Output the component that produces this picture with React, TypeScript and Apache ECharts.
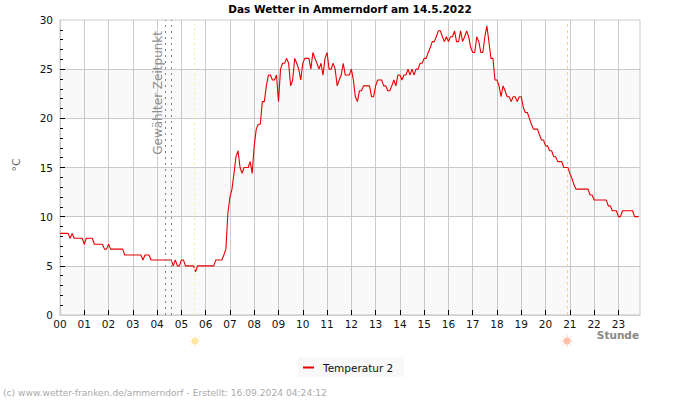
import React, { useEffect, useRef } from "react";
import * as echarts from "echarts";

const FONT = '"DejaVu Sans", sans-serif';

const CHART_TITLE = "Das Wetter in Ammerndorf am 14.5.2022";
const SERIES_NAME = "Temperatur 2";
const FOOTER = "(c) www.wetter-franken.de/ammerndorf - Erstellt: 16.09.2024 04:24:12";
const SELECTED_LABEL = "Gewählter Zeitpunkt";

// One row per hour, one reading every five minutes (°C).
const hour00 = [8.3, 8.3, 8.3, 8.3, 8.3, 7.8, 8.3, 7.8, 7.8, 7.8, 7.8, 7.8];
const hour01 = [7.2, 7.8, 7.8, 7.8, 7.8, 7.2, 7.2, 7.2, 7.2, 7.2, 6.7, 6.7];
const hour02 = [7.2, 6.7, 6.7, 6.7, 6.7, 6.7, 6.7, 6.7, 6.1, 6.1, 6.1, 6.1];
const hour03 = [6.1, 6.1, 6.1, 6.1, 6.1, 5.6, 6.1, 6.1, 6.1, 5.6, 5.6, 5.6];
const hour04 = [5.6, 5.6, 5.6, 5.6, 5.6, 5.6, 5.6, 5.6, 5.0, 5.6, 5.0, 5.0];
const hour05 = [5.6, 5.6, 5.0, 5.0, 5.0, 5.0, 5.0, 4.4, 5.0, 5.0, 5.0, 5.0];
const hour06 = [5.0, 5.0, 5.0, 5.0, 5.0, 5.6, 5.6, 5.6, 5.6, 6.1, 6.7, 10.4];
const hour07 = [12.0, 12.8, 14.4, 16.1, 16.7, 15.0, 14.4, 15.0, 15.0, 15.0, 15.6, 14.4];
const hour08 = [17.2, 18.9, 19.4, 19.4, 21.7, 21.7, 23.3, 24.4, 24.4, 23.9, 23.9, 24.4];
const hour09 = [21.7, 25.0, 25.6, 25.6, 26.1, 25.6, 23.3, 23.9, 26.1, 25.6, 25.0, 23.9];
const hour10 = [25.6, 26.1, 26.1, 26.1, 25.0, 26.7, 26.1, 25.6, 25.0, 25.6, 24.4, 26.1];
const hour11 = [26.7, 25.0, 25.0, 25.6, 25.0, 23.3, 23.9, 24.4, 25.6, 24.4, 24.4, 24.4];
const hour12 = [25.0, 23.9, 22.2, 21.7, 22.8, 22.8, 23.3, 23.3, 23.3, 23.3, 22.2, 22.2];
const hour13 = [23.3, 23.9, 23.9, 23.9, 23.3, 23.3, 22.8, 22.8, 23.3, 23.9, 23.3, 24.4];
const hour14 = [24.4, 23.9, 24.4, 24.4, 25.0, 24.4, 25.0, 24.4, 25.0, 25.0, 25.6, 25.6];
const hour15 = [26.1, 26.1, 26.7, 27.2, 27.8, 27.8, 28.3, 28.9, 28.9, 28.3, 27.8, 28.3];
const hour16 = [27.8, 28.3, 28.3, 28.9, 27.8, 27.8, 28.9, 27.8, 28.3, 28.9, 28.3, 27.2];
const hour17 = [26.7, 26.7, 28.3, 27.8, 26.7, 26.7, 28.3, 29.4, 27.8, 26.1, 26.1, 23.9];
const hour18 = [23.9, 23.3, 22.2, 23.3, 22.8, 22.2, 22.2, 21.7, 22.2, 22.2, 21.7, 22.2];
const hour19 = [22.2, 21.1, 20.6, 20.6, 20.0, 19.4, 18.9, 18.9, 18.9, 18.3, 17.8, 17.8];
const hour20 = [17.2, 17.2, 16.7, 16.7, 16.1, 16.1, 15.6, 15.6, 15.6, 15.0, 15.0, 15.0];
const hour21 = [14.4, 13.9, 13.3, 12.8, 12.8, 12.8, 12.8, 12.8, 12.8, 12.8, 12.2, 12.2];
const hour22 = [11.7, 11.7, 11.7, 11.7, 11.7, 11.7, 11.7, 11.1, 11.1, 10.6, 10.6, 10.6];
const hour23 = [10.0, 10.0, 10.6, 10.6, 10.6, 10.6, 10.6, 10.6, 10.0, 10.0, 10.0];

const temperatures = [
  ...hour00, ...hour01, ...hour02, ...hour03, ...hour04, ...hour05,
  ...hour06, ...hour07, ...hour08, ...hour09, ...hour10, ...hour11,
  ...hour12, ...hour13, ...hour14, ...hour15, ...hour16, ...hour17,
  ...hour18, ...hour19, ...hour20, ...hour21, ...hour22, ...hour23,
];

const hourLabels = [
  0, 1, 2, 3, 4, 5, 6, 7, 8, 9, 10, 11, 12, 13, 14, 15, 16, 17, 18, 19, 20, 21, 22, 23,
];
const hourTicks = hourLabels.slice(1);
const degreeTicks = [5, 10, 15, 20, 25];

// Alternating shaded temperature bands, [from, to] in °C.
const shadedBands = [
  [0, 5],
  [10, 15],
  [20, 25],
];

// Two selected moments, sunrise and sunset, in decimal hours.
const selectedFrom = 4.33;
const selectedTo = 4.57;
const sunrise = 5.55;
const sunset = 20.9;

// A small sun: a disc with eight short rays.
function sun(cx: number, cy: number, color: string) {
  const rays = [0, 1, 2, 3, 4, 5, 6, 7].map((k) => {
    const a = (k * Math.PI) / 4;
    return {
      type: "line",
      shape: {
        x1: cx + Math.cos(a) * 3,
        y1: cy + Math.sin(a) * 3,
        x2: cx + Math.cos(a) * 6.5,
        y2: cy + Math.sin(a) * 6.5,
      },
      style: { stroke: color, lineWidth: 1, opacity: 0.65 },
    };
  });
  return {
    type: "group",
    children: [
      ...rays,
      { type: "circle", shape: { cx, cy, r: 3.5 }, style: { fill: color } },
    ],
  };
}

function vertical(value: number, color: string, dash: number[], label?: object) {
  return {
    xAxis: value,
    lineStyle: { color, width: 1, type: dash, opacity: 1 },
    label: label ?? { show: false },
  };
}

export default function App() {
  const ref = useRef<HTMLDivElement>(null);

  useEffect(() => {
    document.body.style.margin = "0";
    const chart = echarts.init(ref.current!, null, { renderer: "svg" });
    chart.setOption({
      animation: false,
      backgroundColor: "#ffffff",
      textStyle: { fontFamily: FONT },
      title: {
        text: CHART_TITLE,
        left: "center",
        top: 3,
        padding: 0,
        textStyle: { fontFamily: FONT, fontSize: 10.5, fontWeight: "bold", color: "#000" },
      },
      legend: {
        left: 298,
        top: 357,
        padding: [5, 11, 4, 5],
        backgroundColor: "#f8f8f8",
        itemWidth: 11,
        itemHeight: 2,
        itemGap: 0,
        icon: "rect",
        textStyle: { fontFamily: FONT, fontSize: 10.5, color: "#111", padding: [0, 0, 0, 4] },
        data: [SERIES_NAME],
      },
      grid: {
        left: 60,
        top: 20,
        width: 580,
        height: 295,
        show: true,
        backgroundColor: "transparent",
        borderColor: "#cccccc",
        borderWidth: 1,
      },
      xAxis: {
        type: "value",
        min: 0,
        max: 23.89,
        interval: 1,
        axisLine: { show: true, lineStyle: { color: "#cccccc", width: 1 } },
        axisTick: {
          show: true,
          inside: true,
          length: 5,
          lineStyle: { color: "#000" },
          customValues: hourTicks,
        },
        axisLabel: {
          fontFamily: FONT,
          fontSize: 10.5,
          color: "#111",
          margin: 3,
          customValues: hourLabels,
          formatter: (v: number) => String(v).padStart(2, "0"),
        },
        splitLine: { show: true, lineStyle: { color: "#cccccc", width: 1 } },
      },
      yAxis: {
        type: "value",
        min: 0,
        max: 30,
        interval: 5,
        axisLine: { show: true, lineStyle: { color: "#cccccc", width: 1 } },
        axisTick: {
          show: true,
          inside: true,
          length: 5,
          lineStyle: { color: "#000" },
          customValues: degreeTicks,
        },
        minorTick: { show: true, splitNumber: 5, length: 3, lineStyle: { color: "#000" } },
        axisLabel: { fontFamily: FONT, fontSize: 10.5, color: "#111", margin: 7 },
        splitLine: { show: true, lineStyle: { color: "#cccccc", width: 1 } },
        splitArea: { show: false },
      },
      series: [
        {
          name: SERIES_NAME,
          type: "line",
          showSymbol: false,
          symbol: "none",
          silent: true,
          lineStyle: { color: "#e60000", width: 1.1 },
          itemStyle: { color: "#e60000" },
          data: temperatures.map((t, i) => [i / 12, t]),
          markArea: {
            silent: true,
            itemStyle: { color: "rgba(0,0,0,0.022)" },
            label: { show: false },
            data: shadedBands.map(([from, to]) => [{ yAxis: from }, { yAxis: to }]),
          },
          markLine: {
            silent: true,
            symbol: "none",
            data: [
              vertical(selectedFrom, "#808080", [2, 4], {
                show: true,
                formatter: SELECTED_LABEL,
                position: "insideEndTop",
                distance: [11, 1],
                fontFamily: FONT,
                fontSize: 12,
                color: "#909090",
              }),
              vertical(selectedTo, "#808080", [2, 4]),
              vertical(sunrise, "#f3ee9a", [2, 3]),
              vertical(sunset, "#f4cf96", [3, 3]),
            ],
          },
        },
      ],
      graphic: [
        {
          type: "text",
          x: 16,
          y: 165,
          rotation: Math.PI / 2,
          style: {
            text: "°C",
            fontFamily: FONT,
            fontSize: 11,
            fill: "#666",
            align: "center",
            verticalAlign: "middle",
          },
        },
        {
          type: "text",
          x: 639,
          y: 335,
          style: {
            text: "Stunde",
            fontFamily: FONT,
            fontSize: 10.5,
            fontWeight: "bold",
            fill: "#888",
            align: "right",
            verticalAlign: "middle",
          },
        },
        {
          type: "text",
          x: 3,
          y: 393,
          style: {
            text: FOOTER,
            fontFamily: FONT,
            fontSize: 9.15,
            fill: "#aaa",
            align: "left",
            verticalAlign: "middle",
          },
        },
        sun(195, 341, "#ffe9a6"),
        sun(567, 341, "#ffbfa8"),
      ],
    });
    return () => chart.dispose();
  }, []);

  return <div ref={ref} style={{ width: 700, height: 400 }} />;
}
